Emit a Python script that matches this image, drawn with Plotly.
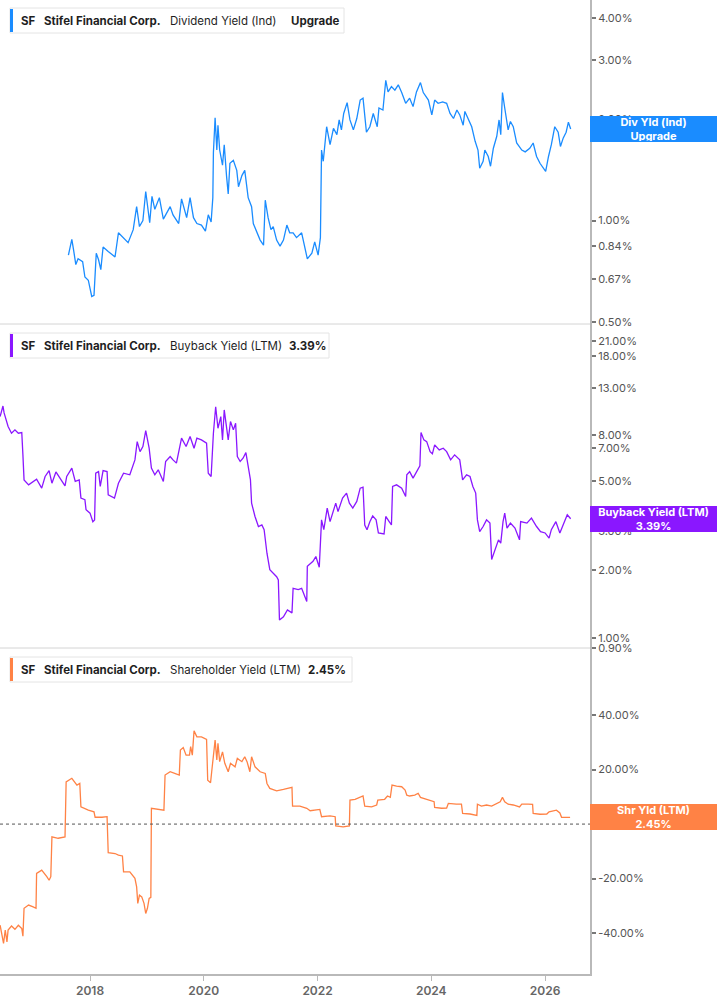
import math
from datetime import datetime
import plotly.graph_objects as go

# ---------------- data (decimal years, percent values) ----------------
div_t = [2017.62, 2017.65, 2017.68, 2017.71, 2017.75, 2017.79, 2017.87, 2017.91, 2017.97, 2018.03,
         2018.07, 2018.11, 2018.15, 2018.19, 2018.23, 2018.32, 2018.44, 2018.50, 2018.59, 2018.67,
         2018.76, 2018.82, 2018.87, 2018.93, 2018.98, 2019.05, 2019.09, 2019.14, 2019.22, 2019.29,
         2019.41, 2019.46, 2019.56, 2019.61, 2019.70, 2019.76, 2019.82, 2019.88, 2019.96, 2020.03,
         2020.08, 2020.13, 2020.16, 2020.17, 2020.20, 2020.23, 2020.25, 2020.28, 2020.33, 2020.36,
         2020.40, 2020.43, 2020.46, 2020.52, 2020.58, 2020.61, 2020.67, 2020.72, 2020.78, 2020.84,
         2020.87, 2020.93, 2020.99, 2021.05, 2021.08, 2021.13, 2021.18, 2021.22, 2021.28, 2021.34,
         2021.40, 2021.46, 2021.51, 2021.57, 2021.63, 2021.72, 2021.78, 2021.82, 2021.90, 2021.95,
         2022.01, 2022.05, 2022.07, 2022.10, 2022.16, 2022.22, 2022.28, 2022.34, 2022.38, 2022.42,
         2022.46, 2022.52, 2022.57, 2022.63, 2022.69, 2022.75, 2022.80, 2022.86, 2022.92, 2022.98,
         2023.05, 2023.08, 2023.15, 2023.20, 2023.24, 2023.30, 2023.36, 2023.42, 2023.48, 2023.55,
         2023.62, 2023.68, 2023.74, 2023.81, 2023.86, 2023.95, 2024.01, 2024.06, 2024.12, 2024.20,
         2024.27, 2024.33, 2024.39, 2024.45, 2024.50, 2024.56, 2024.59, 2024.65, 2024.71, 2024.77,
         2024.82, 2024.85, 2024.91, 2024.94, 2025.00, 2025.04, 2025.09, 2025.15, 2025.19, 2025.22,
         2025.25, 2025.29, 2025.35, 2025.39, 2025.44, 2025.50, 2025.59, 2025.65, 2025.73, 2025.79,
         2025.85, 2025.91, 2025.97, 2026.01, 2026.06, 2026.11, 2026.17, 2026.23, 2026.27, 2026.32,
         2026.37, 2026.41, 2026.45]
div_v = [0.79, 0.83, 0.88, 0.82, 0.74, 0.77, 0.755, 0.68, 0.665, 0.595,
         0.60, 0.80, 0.765, 0.715, 0.835, 0.81, 0.78, 0.92, 0.89, 0.86,
         0.94, 1.10, 0.96, 1.00, 1.22, 0.985, 1.18, 1.08, 1.17, 1.01,
         1.10, 1.04, 0.98, 1.16, 1.02, 1.17, 1.02, 0.98, 0.97, 0.93,
         1.04, 0.99, 1.17, 1.59, 2.02, 1.62, 1.92, 1.62, 1.46, 1.68,
         1.36, 1.20, 1.48, 1.51, 1.41, 1.26, 1.36, 1.41, 1.17, 1.10,
         0.98, 0.92, 0.875, 0.845, 1.15, 1.02, 0.94, 0.96, 0.875, 0.84,
         0.875, 0.97, 0.92, 0.92, 0.89, 0.92, 0.82, 0.77, 0.80, 0.865,
         0.79, 0.89, 1.62, 1.50, 1.90, 1.68, 1.88, 1.80, 1.99, 1.86,
         2.08, 2.24, 1.99, 1.86, 2.01, 2.28, 2.31, 1.83, 1.90, 2.08,
         1.90, 2.16, 2.13, 2.61, 2.41, 2.50, 2.44, 2.53, 2.40, 2.23,
         2.31, 2.18, 2.41, 2.57, 2.40, 2.28, 2.06, 2.28, 2.23, 2.25,
         2.23, 2.08, 2.01, 2.13, 2.06, 1.92, 2.11, 1.99, 1.90, 1.72,
         1.62, 1.43, 1.50, 1.62, 1.55, 1.45, 1.64, 1.78, 1.99, 1.80,
         2.40, 2.16, 1.86, 1.97, 1.90, 1.70, 1.62, 1.60, 1.64, 1.70,
         1.55, 1.48, 1.43, 1.40, 1.55, 1.68, 1.90, 1.83, 1.66, 1.76,
         1.83, 1.96, 1.87]

bb_t = [2016.42, 2016.47, 2016.49, 2016.52, 2016.56, 2016.62, 2016.68, 2016.74, 2016.80, 2016.82,
        2016.84, 2016.92, 2017.00, 2017.06, 2017.15, 2017.21, 2017.28, 2017.33, 2017.40, 2017.47,
        2017.56, 2017.59, 2017.68, 2017.74, 2017.81, 2017.84, 2017.91, 2017.93, 2018.00, 2018.05,
        2018.08, 2018.10, 2018.15, 2018.18, 2018.23, 2018.30, 2018.32, 2018.43, 2018.50, 2018.59,
        2018.70, 2018.79, 2018.83, 2018.88, 2018.93, 2018.98, 2019.04, 2019.08, 2019.14, 2019.20,
        2019.25, 2019.29, 2019.33, 2019.41, 2019.46, 2019.52, 2019.61, 2019.69, 2019.76, 2019.83,
        2019.88, 2019.96, 2020.05, 2020.08, 2020.13, 2020.17, 2020.21, 2020.25, 2020.30, 2020.33,
        2020.36, 2020.40, 2020.43, 2020.47, 2020.52, 2020.56, 2020.59, 2020.64, 2020.69, 2020.74,
        2020.78, 2020.82, 2020.84, 2020.90, 2020.96, 2021.02, 2021.06, 2021.11, 2021.16, 2021.22,
        2021.28, 2021.31, 2021.33, 2021.40, 2021.47, 2021.55, 2021.57, 2021.66, 2021.72, 2021.81,
        2021.82, 2021.92, 2021.97, 2022.03, 2022.07, 2022.11, 2022.17, 2022.22, 2022.28, 2022.32,
        2022.36, 2022.44, 2022.51, 2022.56, 2022.62, 2022.69, 2022.75, 2022.80, 2022.83, 2022.87,
        2022.92, 2022.97, 2023.03, 2023.07, 2023.17, 2023.20, 2023.26, 2023.30, 2023.32, 2023.39,
        2023.48, 2023.55, 2023.57, 2023.62, 2023.68, 2023.77, 2023.80, 2023.82, 2023.87, 2023.92,
        2023.98, 2024.02, 2024.06, 2024.14, 2024.21, 2024.27, 2024.34, 2024.41, 2024.50, 2024.55,
        2024.62, 2024.68, 2024.73, 2024.78, 2024.81, 2024.85, 2024.91, 2024.97, 2025.03, 2025.06,
        2025.12, 2025.18, 2025.22, 2025.26, 2025.29, 2025.33, 2025.39, 2025.47, 2025.55, 2025.57,
        2025.68, 2025.76, 2025.85, 2025.92, 2026.00, 2026.07, 2026.11, 2026.19, 2026.26, 2026.32,
        2026.39, 2026.45]
bb_v = [9.67, 10.78, 10.04, 9.35, 8.73, 8.15, 8.44, 8.15, 8.21, 6.53,
        5.05, 4.80, 4.97, 5.09, 4.64, 5.23, 5.56, 4.88, 5.48, 5.14,
        4.75, 5.23, 5.70, 4.97, 5.05, 4.19, 4.12, 3.72, 3.59, 3.29,
        3.35, 5.41, 5.50, 4.72, 5.56, 5.50, 4.33, 4.19, 4.88, 5.41,
        5.32, 6.20, 7.48, 6.75, 7.11, 8.38, 6.99, 5.70, 5.32, 5.60,
        5.23, 4.97, 6.10, 6.42, 6.20, 6.00, 7.75, 7.11, 7.88, 6.99,
        7.75, 7.61, 7.36, 5.41, 5.23, 8.15, 10.70, 8.58, 9.67, 7.61,
        10.35, 8.73, 7.61, 9.19, 8.44, 9.03, 6.42, 6.10, 6.31, 6.68,
        5.70, 5.05, 3.98, 3.47, 3.13, 3.18, 3.03, 2.38, 2.01, 1.94,
        1.87, 1.81, 1.20, 1.24, 1.33, 1.29, 1.66, 1.64, 1.66, 1.45,
        2.08, 2.19, 2.30, 2.06, 3.35, 3.03, 3.78, 3.29, 3.72, 3.98,
        3.65, 4.19, 4.41, 3.98, 3.78, 4.05, 4.64, 4.69, 3.18, 3.03,
        3.29, 3.49, 3.35, 2.93, 2.90, 3.47, 3.29, 3.18, 4.72, 4.80,
        4.64, 4.26, 5.32, 5.50, 5.14, 5.70, 5.83, 8.21, 7.61, 7.48,
        6.75, 6.60, 7.23, 6.87, 6.99, 6.75, 6.20, 6.53, 6.20, 5.05,
        5.32, 5.23, 4.72, 4.41, 3.35, 2.97, 3.13, 3.35, 3.24, 2.23,
        2.47, 2.73, 2.64, 3.29, 3.59, 3.08, 3.24, 3.08, 2.73, 3.29,
        3.24, 3.41, 3.13, 2.97, 2.93, 2.78, 3.03, 3.29, 2.93, 3.18,
        3.53, 3.39]

sh_t = [2016.42, 2016.45, 2016.48, 2016.51, 2016.54, 2016.56, 2016.62, 2016.68, 2016.74, 2016.80,
        2016.82, 2016.84, 2016.92, 2017.00, 2017.05, 2017.06, 2017.15, 2017.24, 2017.28, 2017.31,
        2017.33, 2017.44, 2017.56, 2017.58, 2017.68, 2017.77, 2017.82, 2017.84, 2017.97, 2018.07,
        2018.09, 2018.21, 2018.30, 2018.32, 2018.44, 2018.50, 2018.57, 2018.59, 2018.70, 2018.79,
        2018.82, 2018.84, 2018.87, 2018.91, 2018.95, 2018.98, 2019.01, 2019.04, 2019.07, 2019.08,
        2019.20, 2019.30, 2019.32, 2019.41, 2019.49, 2019.57, 2019.59, 2019.64, 2019.69, 2019.75,
        2019.77, 2019.80, 2019.83, 2019.88, 2019.96, 2020.05, 2020.07, 2020.12, 2020.14, 2020.17,
        2020.20, 2020.23, 2020.25, 2020.28, 2020.33, 2020.37, 2020.43, 2020.47, 2020.55, 2020.59,
        2020.67, 2020.72, 2020.76, 2020.81, 2020.84, 2020.90, 2020.99, 2021.08, 2021.11, 2021.16,
        2021.28, 2021.40, 2021.47, 2021.55, 2021.56, 2021.69, 2021.81, 2021.87, 2022.04, 2022.07,
        2022.22, 2022.31, 2022.32, 2022.45, 2022.56, 2022.57, 2022.66, 2022.75, 2022.80, 2022.83,
        2022.95, 2023.04, 2023.06, 2023.18, 2023.23, 2023.28, 2023.31, 2023.39, 2023.48, 2023.54,
        2023.57, 2023.62, 2023.71, 2023.77, 2023.81, 2023.92, 2024.01, 2024.05, 2024.06, 2024.18,
        2024.27, 2024.30, 2024.44, 2024.53, 2024.55, 2024.68, 2024.80, 2024.81, 2024.88, 2024.97,
        2025.06, 2025.15, 2025.21, 2025.25, 2025.29, 2025.35, 2025.44, 2025.55, 2025.59, 2025.70,
        2025.78, 2025.79, 2025.91, 2026.03, 2026.07, 2026.20, 2026.26, 2026.29, 2026.44]
sh_v = [-37.1, -41.4, -43.8, -38.9, -43.2, -38.9, -37.4, -38.6, -37.1, -38.3,
        -41.1, -30.9, -29.7, -30.4, -30.9, -18.1, -16.9, -19.3, -20.6, -19.3,
        -4.7, -5.2, -4.7, 15.5, 16.8, 14.3, 14.9, 6.3, 5.1, 4.5,
        2.5, 2.5, 2.7, -10.5, -10.8, -11.4, -11.7, -17.5, -17.5, -19.9,
        -23.0, -29.1, -26.1, -26.7, -29.1, -32.8, -30.9, -27.3, -26.9, 5.8,
        5.4, 5.1, 18.0, 19.2, 18.6, 18.0, 27.2, 28.1, 25.3, 25.3,
        28.4, 25.3, 34.2, 32.0, 32.0, 31.1, 16.1, 15.2, 19.2, 25.3,
        30.8, 23.5, 29.6, 22.9, 26.5, 22.3, 19.2, 22.3, 21.0, 24.1,
        22.9, 24.7, 22.9, 19.2, 24.7, 21.0, 19.2, 18.6, 14.9, 13.1,
        12.2, 12.7, 13.1, 13.5, 6.6, 6.6, 5.8, 4.9, 5.4, 2.7,
        3.0, 2.7, -0.7, -1.0, -0.7, 8.8, 9.1, 10.0, 10.3, 6.6,
        6.3, 7.0, 8.8, 9.1, 10.3, 9.8, 14.3, 13.9, 13.7, 12.5,
        10.6, 10.3, 10.6, 11.3, 9.8, 9.1, 8.4, 8.2, 6.1, 5.8,
        5.9, 7.6, 7.3, 7.3, 3.9, 3.7, 3.2, 7.3, 6.6, 7.0,
        6.6, 7.6, 8.2, 9.8, 8.2, 7.3, 7.0, 6.3, 7.3, 7.3,
        7.2, 3.9, 3.6, 3.7, 4.5, 5.1, 4.1, 2.5, 2.45]

div_ticks = [0.5, 0.67, 0.84, 1, 2, 3, 4]
bb_ticks = [0.9, 1, 2, 3, 5, 7, 8, 13, 18, 21]
sh_ticks = [-40, -20, 0, 20, 40]
x_range_years = [2016.418, 2026.79]

div_legend = ["SF", "Stifel Financial Corp.", "Dividend Yield (Ind)", "Upgrade"]
bb_legend = ["SF", "Stifel Financial Corp.", "Buyback Yield (LTM)", "3.39%"]
sh_legend = ["SF", "Stifel Financial Corp.", "Shareholder Yield (LTM)", "2.45%"]
div_label = "Div Yld (Ind)<br>Upgrade"
bb_label = "Buyback Yield (LTM)<br>3.39%"
sh_label = "Shr Yld (LTM)<br>2.45%"

BLUE = "#1a8cff"
PURPLE = "#8a17ff"
ORANGE = "#ff8245"


def to_date(t):
    y = int(t)
    a = datetime(y, 1, 1)
    b = datetime(y + 1, 1, 1)
    return a + (b - a) * (t - y)


def dates(ts):
    return [to_date(t) for t in ts]


def pct(v):
    return "%.2f%%" % v


# layout geometry (pixels of the plot area: 590 x 974)
PW, PH = 590.0, 974.0


def px(x):
    return x / PW


def py(y):
    return 1 - y / PH


d1 = [py(324), 1.0]
d2 = [py(648), py(324)]
d3 = [0.0, py(648)]

fig = go.Figure()
fig.add_trace(go.Scatter(x=dates(div_t), y=div_v, mode="lines", xaxis="x", yaxis="y",
                         line=dict(color=BLUE, width=1.3), showlegend=False))
fig.add_trace(go.Scatter(x=dates(bb_t), y=bb_v, mode="lines", xaxis="x", yaxis="y2",
                         line=dict(color=PURPLE, width=1.3), showlegend=False))
fig.add_trace(go.Scatter(x=dates(sh_t), y=sh_v, mode="lines", xaxis="x", yaxis="y3",
                         line=dict(color=ORANGE, width=1.3), showlegend=False))

tickfont = dict(family="Inter", size=11, color="#555555")
yax_common = dict(side="right", anchor="x", showgrid=False, zeroline=False,
                  showline=True, linecolor="#b9b9b9", linewidth=2,
                  ticks="outside", ticklen=4, tickwidth=2, tickcolor="#777777",
                  tickfont=tickfont, fixedrange=True)

fig.update_layout(
    width=717, height=1005,
    margin=dict(l=0, r=127, t=0, b=31),
    paper_bgcolor="white", plot_bgcolor="white",
    xaxis=dict(type="date", range=[to_date(x_range_years[0]), to_date(x_range_years[1])],
               anchor="y3", showgrid=False, zeroline=False,
               showline=True, linecolor="#b9b9b9", linewidth=2,
               ticks="outside", ticklen=5, tickcolor="#b9b9b9", tickwidth=1,
               tick0="2018-01-01", dtick="M24", tickformat="%Y",
               tickfont=dict(family="Inter", size=12, color="#666666", weight=600)),
    yaxis=dict(domain=d1, type="log",
               range=[math.log10(0.493), math.log10(4.52)],
               tickvals=div_ticks, ticktext=[pct(v) for v in div_ticks], **yax_common),
    yaxis2=dict(domain=d2, type="log",
                range=[math.log10(0.9), math.log10(25.0)],
                tickvals=bb_ticks, ticktext=[pct(v) for v in bb_ticks], **yax_common),
    yaxis3=dict(domain=d3, range=[-55.0, 64.6],
                tickvals=sh_ticks, ticktext=[pct(v) for v in sh_ticks], **yax_common),
)

shapes = []
# panel dividers
for yy in (324, 648):
    shapes.append(dict(type="line", xref="paper", yref="paper", x0=0, x1=1, y0=py(yy), y1=py(yy),
                       line=dict(color="#d4d4d4", width=1)))
# zero line in shareholder panel
shapes.append(dict(type="line", xref="paper", yref="y3", x0=0, x1=1, y0=0, y1=0,
                   line=dict(color="#555555", width=1, dash="dot")))

annotations = []


def legend_box(top, bottom, right, color, texts, xs):
    shapes.append(dict(type="rect", xref="paper", yref="paper", x0=px(10), x1=px(right),
                       y0=py(bottom), y1=py(top), fillcolor="white",
                       line=dict(color="#e4e4e4", width=1), layer="above"))
    shapes.append(dict(type="rect", xref="paper", yref="paper", x0=px(10), x1=px(13),
                       y0=py(bottom - 1), y1=py(top + 1), fillcolor=color,
                       line=dict(width=0), layer="above"))
    mid = (top + bottom) / 2.0
    bold = [True, True, False, True]
    for t, x, b in zip(texts, xs, bold):
        annotations.append(dict(xref="paper", yref="paper", x=px(x), y=py(mid),
                                xanchor="left", yanchor="middle", showarrow=False,
                                text=("<b>%s</b>" % t) if b else t,
                                font=dict(family="Inter", size=11.5, color="#1f1f1f")))


legend_box(8, 33, 344, BLUE, div_legend, [19, 42, 168, 289])
legend_box(333, 358, 329, PURPLE, bb_legend, [19, 42, 168, 287])
legend_box(657, 682, 352, ORANGE, sh_legend, [19, 42, 168, 306])


def callout(text, yref, yval, color):
    annotations.append(dict(xref="paper", yref=yref, x=1, y=yval, xanchor="left", yanchor="middle",
                            showarrow=False, text="<b>%s</b>" % text, align="center",
                            bgcolor=color, borderwidth=0, borderpad=1, width=125, height=24,
                            font=dict(family="Inter", size=11, color="white")))


callout(div_label, "y", math.log10(div_v[-1]), BLUE)
callout(bb_label, "y2", math.log10(bb_v[-1]), PURPLE)
callout(sh_label, "y3", sh_v[-1], ORANGE)

fig.update_layout(shapes=shapes, annotations=annotations)
fig.write_html("out.html", config={"displayModeBar": False})
